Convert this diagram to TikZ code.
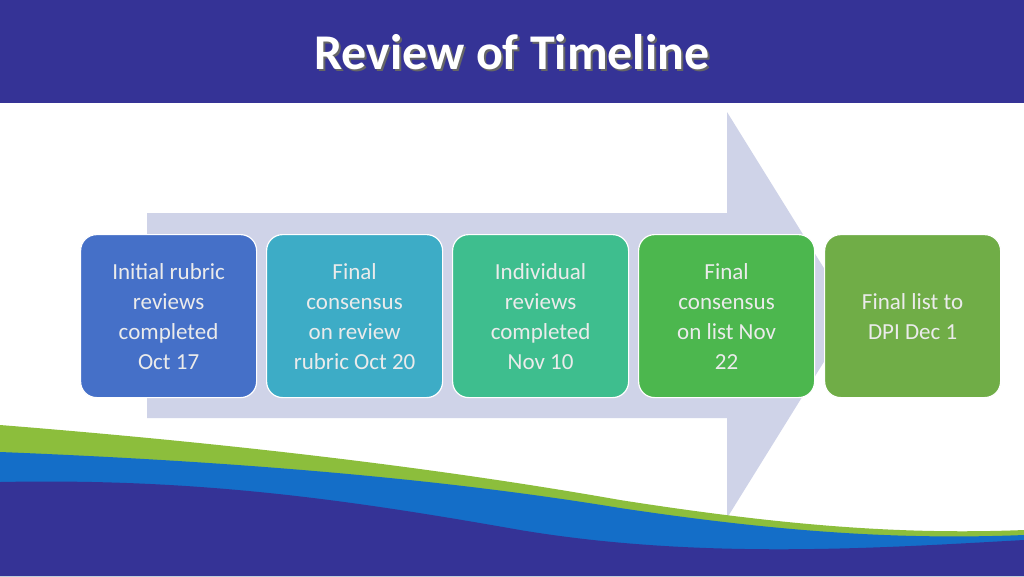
\documentclass[tikz,border=0pt]{standalone}
\usepackage{fontspec}
\setmainfont{Carlito}
\begin{document}
\begin{tikzpicture}[x=1pt,y=-1pt,
  stepbox/.style={draw=white,line width=1.2pt,rounded corners=16pt,minimum width=176pt,minimum height=163pt,align=center,text=white!92!black,font=\fontsize{23}{30}\selectfont,anchor=north west}]
\definecolor{hdr}{RGB}{53,51,150}
\definecolor{arr}{RGB}{207,211,232}
\definecolor{wgreen}{RGB}{140,190,60}
\definecolor{wblue}{RGB}{20,110,200}
\useasboundingbox (0,0) rectangle (1024,576);
\fill[white] (0,0) rectangle (1024,576);
\fill[hdr] (0,0) rectangle (1024,103);
\node[text=black!60,font=\fontsize{50}{54}\selectfont\bfseries] at (514,54) {Review of Timeline};
\node[text=white,font=\fontsize{50}{54}\selectfont\bfseries] (title) at (512,52) {Review of Timeline};
\fill[arr] (147,213) -- (727,213) -- (727,112) -- (853,315) -- (727,518) -- (727,418) -- (147,418) -- cycle;
% waves
\fill[wgreen] (0,425) .. controls (250,445) and (450,470) .. (620,500) .. controls (780,525) and (900,535) .. (1024,530) -- (1024,576) -- (0,576) -- cycle;
\fill[wblue] (0,452) .. controls (250,462) and (450,480) .. (620,508) .. controls (780,532) and (900,540) .. (1024,535) -- (1024,576) -- (0,576) -- cycle;
\fill[hdr] (0,482) .. controls (200,478) and (350,500) .. (520,530) .. controls (700,560) and (880,548) .. (1024,540) -- (1024,576) -- (0,576) -- cycle;
\node[stepbox,fill={rgb,255:red,69;green,112;blue,200}] (b1) at (80,234) {Initial rubric\\reviews\\completed\\Oct 17};
\node[stepbox,fill={rgb,255:red,61;green,172;blue,198}] (b2) at (266,234) {Final\\consensus\\on review\\rubric Oct 20};
\node[stepbox,fill={rgb,255:red,62;green,190;blue,142}] (b3) at (452,234) {Individual\\reviews\\completed\\Nov 10};
\node[stepbox,fill={rgb,255:red,76;green,183;blue,78}] (b4) at (638,234) {Final\\consensus\\on list Nov\\22};
\node[stepbox,fill={rgb,255:red,112;green,173;blue,71}] (b5) at (824,234) {Final list to\\DPI Dec 1};
\end{tikzpicture}
\end{document}
